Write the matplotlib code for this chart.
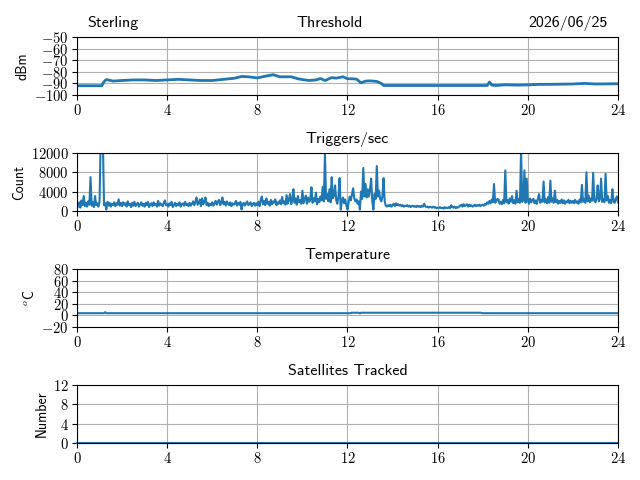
'''
Station monitor: threshold, triggers, temperature, satellites over one day
'''

import matplotlib
matplotlib.use('Agg')
import matplotlib.pyplot as plt
from matplotlib.ticker import FuncFormatter

plt.rcParams['font.family'] = ['cmss10', 'DejaVu Sans']
plt.rcParams['mathtext.fontset'] = 'cm'
plt.rcParams['axes.unicode_minus'] = False
plt.rcParams['axes.titlepad'] = 7.5

station = 'Sterling'
day = '2026/06/25'

# threshold (dBm)
thr_hours = [0, 0.5, 1.1, 1.2, 1.3, 1.6, 2.0, 2.5, 3.0, 3.5, 4.0, 4.5,
             5.0, 5.5, 6.0, 6.5, 7.0, 7.3, 7.6, 8.0, 8.3, 8.7, 9.0, 9.5,
             9.8, 10.0, 10.3, 10.6, 10.8, 11.0, 11.3, 11.5, 11.8, 12.0, 12.2, 12.4,
             12.6, 12.8, 13.0, 13.3, 13.5, 13.6, 15.0, 17.0, 18.2, 18.3, 18.4, 18.6,
             19.0, 19.5, 20.0, 20.5, 21.0, 22.0, 22.5, 23.0, 24.0]
thr_dbm = [-92, -92, -92, -88.5, -86.7, -88, -87.5, -87, -87, -87.5, -87, -86.5,
           -87, -87.5, -87.5, -86.5, -85.5, -84, -84.3, -85.3, -84, -82.5, -84.3, -84.3,
           -86, -86.7, -87.5, -87, -85.8, -87.5, -85, -85.5, -84.3, -86, -86, -86.3,
           -89.5, -88, -87.8, -88.3, -90, -91.8, -91.8, -91.8, -91.8, -88.8, -91.5, -91.8,
           -91.2, -91.5, -91.3, -90.8, -90.8, -90.5, -90, -90.5, -90.3]

# triggers per second, one value every 0.05 hour (one row per hour)
trig = [
    1500, 900, 1800, 700, 2200, 1200, 3100, 1000, 1700, 900, 2000, 1300, 7000, 1100, 1800, 800, 3100, 1200, 1600, 900,
    2000, 14500, 13000, 14000, 1200, 1600, 300, 1900, 1100, 1700, 900, 1500, 1200, 1800, 1000, 1600, 1300, 2400, 1100, 1700,
    1000, 1800, 1300, 1600, 900, 2000, 1200, 1500, 800, 1700, 1100, 1900, 1000, 1400, 1700, 900, 1300, 1800, 1100, 1500,
    900, 1700, 1200, 1900, 800, 1400, 1600, 1000, 1800, 1200, 1500, 900, 2100, 1100, 1600, 1300, 1000, 1700, 2200, 1200,
    1400, 900, 1600, 1200, 1900, 800, 1300, 1700, 1000, 1500, 1200, 1800, 900, 1400, 1600, 1100, 1900, 1200, 1500, 1000,
    1700, 1100, 1500, 2000, 1200, 1800, 2800, 1300, 1600, 2400, 1000, 2600, 1400, 1900, 2800, 1200, 1700, 1000, 1500, 1200,
    1800, 1100, 1600, 2100, 1300, 1900, 2300, 1200, 1700, 2800, 1400, 1900, 1100, 2000, 1500, 1200, 1800, 1000, 1600, 1300,
    1500, 2100, 1100, 1700, 1300, 1900, 300, 1400, 1700, 1100, 1600, 2000, 1200, 1500, 1800, 1000, 1400, 1700, 1100, 1600,
    1200, 1900, 1000, 2300, 3000, 1400, 2100, 1200, 2600, 1500, 1900, 1100, 2300, 1400, 2000, 1700, 2400, 1200, 1800, 1500,
    2200, 1400, 2900, 1600, 2000, 1300, 3300, 1500, 2400, 3500, 1400, 2200, 4500, 1700, 2600, 1300, 3100, 1800, 2200, 1500,
    4200, 1600, 2400, 3200, 1500, 2800, 1900, 2300, 4900, 1700, 2600, 2000, 3800, 1400, 2500, 1800, 3000, 2200, 5000, 2000,
    11800, 2500, 3500, 2000, 4500, 1800, 7000, 2600, 3200, 5300, 2200, 1500, 3000, 6800, 300, 2000, 2800, 1600, 2400, 1200,
    300, 1800, 3000, 2200, 3500, 4700, 2600, 2000, 2400, 1500, 2000, 300, 4000, 2500, 8900, 3000, 5600, 2800, 4500, 3000,
    4500, 6700, 2000, 300, 3500, 2500, 9300, 3000, 4200, 2500, 2000, 3000, 6800, 2000, 1100, 900, 1200, 1000, 1300, 900,
    1200, 1500, 1000, 1600, 1200, 1400, 1100, 1300, 1000, 1200, 900, 1100, 1000, 1200, 900, 1100, 800, 1000, 1100, 900,
    1000, 800, 1100, 900, 1000, 800, 1100, 900, 1500, 1000, 800, 900, 700, 900, 800, 700, 900, 700, 800, 600,
    700, 600, 800, 600, 700, 500, 800, 600, 700, 600, 800, 600, 1200, 800, 700, 900, 600, 800, 700, 900,
    1100, 1300, 900, 1400, 1000, 1200, 1400, 900, 1300, 1000, 1200, 900, 1100, 1300, 1000, 1200, 1100, 1300, 1000, 1200,
    1300, 1100, 1500, 1300, 1800, 1500, 2100, 1600, 2400, 1800, 5600, 1700, 2000, 2500, 2400, 1500, 1900, 1400, 2300, 1600,
    8400, 1800, 2300, 1500, 2600, 1900, 3100, 1600, 2200, 1500, 4200, 1800, 2500, 1700, 12500, 1900, 2400, 8400, 1700, 6700,
    2200, 1500, 2600, 1800, 2300, 2500, 1600, 2200, 1500, 2600, 3500, 1700, 2300, 1900, 6100, 1800, 2400, 1600, 2900, 1700,
    6300, 1900, 2600, 1700, 4200, 1800, 2300, 1500, 2100, 1700, 2400, 1600, 2200, 1500, 2000, 1800, 2300, 1600, 2100, 1700,
    2100, 1600, 2300, 1700, 2000, 1500, 2400, 1800, 5400, 1900, 2500, 1700, 8000, 2000, 3200, 1800, 2600, 2100, 7900, 2200,
    1800, 2600, 5300, 2000, 2500, 6700, 1900, 2400, 1800, 7700, 2200, 3100, 1700, 2300, 1600, 4500, 2100, 1700, 2500, 3000,
    1800]
trig_hours = [i / 20 for i in range(len(trig))]

# temperature (deg C)
temp_hours = [0, 1.2, 1.25, 1.3, 12.1, 12.2, 12.5, 12.55, 12.6, 17.9, 18.0, 24]
temp_c = [3.8, 3.8, 5.5, 3.8, 3.8, 4.6, 4.6, 3.5, 4.6, 4.6, 3.8, 3.8]

# satellites tracked
sat_hours = [0, 24]
sat_count = [0, 0]

x_ticks = [0, 4, 8, 12, 16, 20, 24]


def math_fmt(v, pos):
    if v < 0:
        return r'${-}%g$' % abs(v)
    return r'$%g$' % v


def style_axes(ax, yticks, ylabel):
    ax.set_xlim(0, 24)
    ax.set_ylim(yticks[0], yticks[-1])
    ax.set_xticks(x_ticks)
    ax.set_yticks(yticks)
    ax.xaxis.set_major_formatter(FuncFormatter(math_fmt))
    ax.yaxis.set_major_formatter(FuncFormatter(math_fmt))
    ax.tick_params(labelsize=10.5, pad=2.5)
    ax.set_ylabel(ylabel, fontsize=10, labelpad=3)
    ax.grid(True, color='#b0b0b0', linewidth=0.8)
    ax.set_axisbelow(True)


fig, axs = plt.subplots(4, 1, figsize=(6.4, 4.8), dpi=100)
fig.subplots_adjust(left=0.1203, right=0.9656, top=0.9229, bottom=0.0771, hspace=1.0)

ax = axs[0]
ax.plot(thr_hours, thr_dbm, color='#1f77b4', linewidth=2)
style_axes(ax, [-100, -90, -80, -70, -60, -50], 'dBm')
ax.set_title(station, loc='left', fontsize=11.5, x=0.02)
ax.set_title('Threshold', loc='center', fontsize=11.5, x=0.467)
ax.set_title(day, loc='right', fontsize=11.5, x=0.98)

ax = axs[1]
ax.plot(trig_hours, trig, color='#1f77b4', linewidth=1.5)
style_axes(ax, [0, 4000, 8000, 12000], 'Count')
ax.set_title('Triggers/sec', fontsize=11.5)

ax = axs[2]
ax.plot(temp_hours, temp_c, color='#1f77b4', linewidth=1.5)
style_axes(ax, [-20, 0, 20, 40, 60, 80], r'$^o$C')
ax.set_title('Temperature', fontsize=11.5)

ax = axs[3]
ax.plot(sat_hours, sat_count, color='#1f77b4', linewidth=1.5, clip_on=False)
style_axes(ax, [0, 4, 8, 12], 'Number')
ax.set_title('Satellites Tracked', fontsize=11.5)

fig.savefig('out.png', dpi=100)
